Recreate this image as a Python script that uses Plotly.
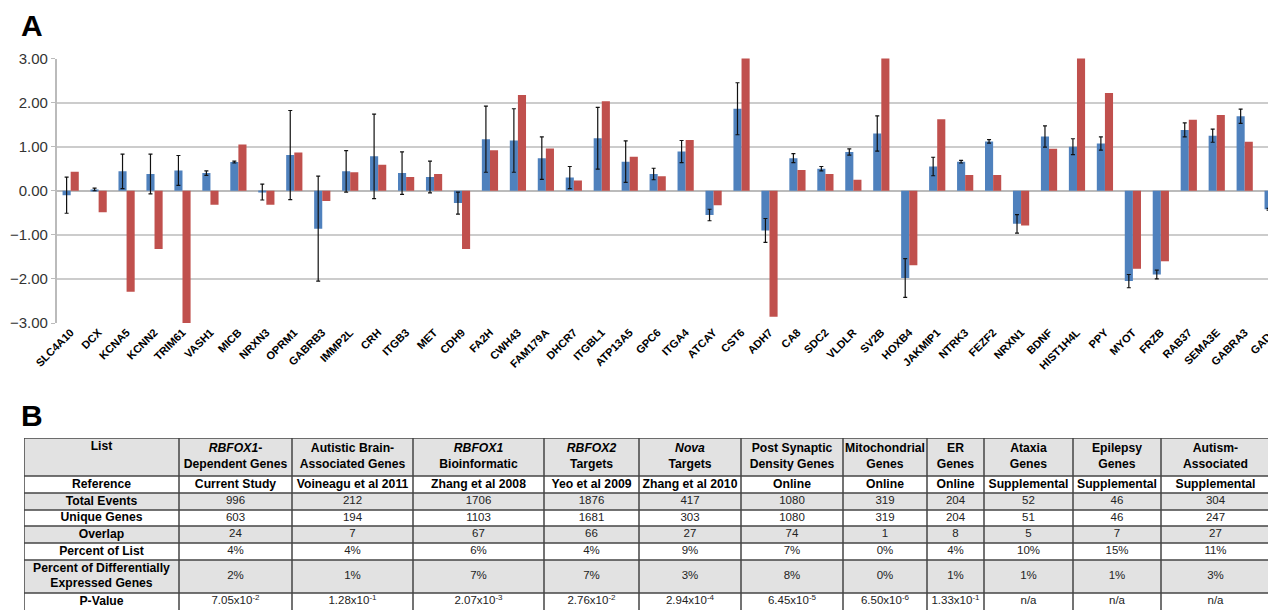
import plotly.graph_objects as go

genes = ["SLC4A10", "DCX", "KCNA5", "KCNN2", "TRIM61", "VASH1", "MICB", "NRXN3", "OPRM1", "GABRB3",
         "IMMP2L", "CRH", "ITGB3", "MET", "CDH9", "FA2H", "CWH43", "FAM179A", "DHCR7", "ITGBL1",
         "ATP13A5", "GPC6", "ITGA4", "ATCAY", "CST6", "ADH7", "CA8", "SDC2", "VLDLR", "SV2B",
         "HOXB4", "JAKMIP1", "NTRK3", "FEZF2", "NRXN1", "BDNF", "HIST1H4L", "PPY", "MYOT", "FRZB",
         "RAB37", "SEMA3E", "GABRA3", "GAD2"]

blue_vals = [-0.10, 0.03, 0.44, 0.38, 0.46, 0.40, 0.65, -0.03, 0.81, -0.86,
             0.44, 0.78, 0.40, 0.31, -0.28, 1.17, 1.14, 0.74, 0.30, 1.19,
             0.66, 0.38, 0.89, -0.55, 1.86, -0.90, 0.74, 0.50, 0.88, 1.30,
             -1.98, 0.55, 0.66, 1.12, -0.75, 1.23, 1.00, 1.07, -2.05, -1.90,
             1.38, 1.25, 1.69, -0.42]

blue_err = [0.41, 0.03, 0.39, 0.45, 0.34, 0.05, 0.02, 0.18, 1.01, 1.19,
            0.47, 0.96, 0.48, 0.36, 0.25, 0.75, 0.72, 0.48, 0.25, 0.70,
            0.47, 0.13, 0.25, 0.13, 0.59, 0.27, 0.10, 0.05, 0.07, 0.40,
            0.44, 0.21, 0.03, 0.04, 0.21, 0.24, 0.18, 0.15, 0.15, 0.10,
            0.16, 0.15, 0.16, 0.02]

red_vals = [0.43, -0.49, -2.29, -1.32, -3.30, -0.32, 1.05, -0.32, 0.87, -0.23,
            0.42, 0.59, 0.31, 0.38, -1.32, 0.92, 2.17, 0.96, 0.23, 2.03,
            0.77, 0.33, 1.15, -0.33, 3.30, -2.86, 0.47, 0.38, 0.25, 3.30,
            -1.69, 1.62, 0.36, 0.36, -0.79, 0.95, 3.30, 2.22, -1.77, -1.60,
            1.61, 1.72, 1.11, -0.48]

y_ticks = [3, 2, 1, 0, -1, -2, -3]

# Table data
col_headers = ["List",
               "<i>RBFOX1</i>-<br>Dependent Genes",
               "Autistic Brain-<br>Associated Genes",
               "<i>RBFOX1</i><br>Bioinformatic",
               "<i>RBFOX2</i><br>Targets",
               "<i>Nova</i><br>Targets",
               "Post Synaptic<br>Density Genes",
               "Mitochondrial<br>Genes",
               "ER<br>Genes",
               "Ataxia<br>Genes",
               "Epilepsy<br>Genes",
               "Autism-<br>Associated"]
row_labels = ["Reference", "Total Events", "Unique Genes", "Overlap", "Percent of List",
              "Percent of Differentially<br>Expressed Genes", "P-Value"]
reference = ["Current Study", "Voineagu et al 2011", "Zhang et al 2008", "Yeo et al 2009",
             "Zhang et al 2010", "Online", "Online", "Online", "Supplemental", "Supplemental", "Supplemental"]
total_events = ["996", "212", "1706", "1876", "417", "1080", "319", "204", "52", "46", "304"]
unique_genes = ["603", "194", "1103", "1681", "303", "1080", "319", "204", "51", "46", "247"]
overlap = ["24", "7", "67", "66", "27", "74", "1", "8", "5", "7", "27"]
pct_list = ["4%", "4%", "6%", "4%", "9%", "7%", "0%", "4%", "10%", "15%", "11%"]
pct_de = ["2%", "1%", "7%", "7%", "3%", "8%", "0%", "1%", "1%", "1%", "3%"]
p_value = ["7.05x10<sup>-2</sup>", "1.28x10<sup>-1</sup>", "2.07x10<sup>-3</sup>", "2.76x10<sup>-2</sup>",
           "2.94x10<sup>-4</sup>", "6.45x10<sup>-5</sup>", "6.50x10<sup>-6</sup>", "1.33x10<sup>-1</sup>",
           "n/a", "n/a", "n/a"]

# Layout geometry (pixels) for the table grid
col_widths = [155, 113, 121, 131, 95, 102, 102, 84, 57, 89, 88, 109]
row_heights = [38, 17, 17, 16, 17, 17, 33, 17]
row_shade = [1, 0, 1, 0, 1, 0, 1, 0]

W, H = 1276, 611
OFF = 8  # page body margin offset
FONT = "Liberation Sans, Arial, Helvetica, sans-serif"
BLUE = "#4F81BD"
RED = "#C0504D"
BOLD_SIZE = 12.2


def px_x(p):
    return (p - OFF) / W


def px_y(p):
    return 1 - (p - OFF) / H


fig = go.Figure()
fig.add_trace(go.Bar(
    x=genes, y=blue_vals, marker_color=BLUE, marker_line_width=0,
    error_y=dict(type="data", array=blue_err, visible=True, color="#111111", thickness=1.2, width=2),
    showlegend=False, hoverinfo="skip"))
fig.add_trace(go.Bar(
    x=genes, y=red_vals, marker_color=RED, marker_line_width=0, showlegend=False, hoverinfo="skip"))

# ---- Table built on its own axes (xaxis2 / yaxis2) ----
xb = [0]
for w in col_widths:
    xb.append(xb[-1] + w)
yb = [0]
for h in row_heights:
    yb.append(yb[-1] + h)
tw, th = xb[-1], yb[-1]

fig.add_trace(go.Heatmap(
    x=xb, y=yb, z=[[s] * len(col_widths) for s in row_shade],
    colorscale=[[0, "white"], [1, "#e2e2e2"]], zmin=0, zmax=1, showscale=False,
    hoverinfo="skip", xaxis="x2", yaxis="y2"))

gx, gy = [], []
for x in xb:
    gx += [x, x, None]
    gy += [0, th + 5, None]
for y in yb[:-1]:
    gx += [0, tw, None]
    gy += [y, y, None]
fig.add_trace(go.Scatter(x=gx, y=gy, mode="lines", line=dict(color="#444444", width=1.5),
                         hoverinfo="skip", showlegend=False, xaxis="x2", yaxis="y2", cliponaxis=False))

xc = [(xb[i] + xb[i + 1]) / 2 for i in range(len(col_widths))]
yc = [(yb[i] + yb[i + 1]) / 2 for i in range(len(row_heights))]

# header texts (bold)
hx, hy, ht, hp = [], [], [], []
for j, t in enumerate(col_headers):
    hx.append(xc[j])
    if j == 0:
        hy.append(yb[0] + 3)
        hp.append("bottom center")
    else:
        hy.append(yc[0])
        hp.append("middle center")
    ht.append("<b>%s</b>" % t)
fig.add_trace(go.Scatter(x=hx, y=hy, text=ht, mode="text", textposition=hp,
                         textfont=dict(family=FONT, size=BOLD_SIZE, color="black"),
                         hoverinfo="skip", showlegend=False, xaxis="x2", yaxis="y2", cliponaxis=False))

# row labels + reference row (bold)
bx, by, bt = [], [], []
for i, lab in enumerate(row_labels):
    bx.append(xc[0])
    by.append(yc[i + 1])
    bt.append("<b>%s</b>" % lab)
for j, v in enumerate(reference):
    bx.append(xc[j + 1])
    by.append(yc[1])
    bt.append("<b>%s</b>" % v)
fig.add_trace(go.Scatter(x=bx, y=by, text=bt, mode="text", textposition="middle center",
                         textfont=dict(family=FONT, size=BOLD_SIZE, color="black"),
                         hoverinfo="skip", showlegend=False, xaxis="x2", yaxis="y2", cliponaxis=False))

# data cells (regular)
data_rows = [total_events, unique_genes, overlap, pct_list, pct_de, p_value]
dx, dy, dt = [], [], []
for i, row in enumerate(data_rows):
    for j, v in enumerate(row):
        dx.append(xc[j + 1])
        dy.append(yc[i + 2])
        dt.append(v)
fig.add_trace(go.Scatter(x=dx, y=dy, text=dt, mode="text", textposition="middle center",
                         textfont=dict(family=FONT, size=11.5, color="#222222"),
                         hoverinfo="skip", showlegend=False, xaxis="x2", yaxis="y2", cliponaxis=False))

fig.update_layout(
    width=W, height=H,
    margin=dict(l=0, r=0, t=0, b=0),
    paper_bgcolor="white", plot_bgcolor="white",
    barmode="group", bargap=0.42, bargroupgap=0,
    font=dict(family=FONT),
    xaxis=dict(domain=[px_x(56.7), px_x(1276)], range=[-0.5, 43.12], tickangle=-45,
               tickfont=dict(family=FONT, size=11, color="black", weight="bold"),
               showgrid=False, showline=False, ticks="", automargin=False, fixedrange=True),
    xaxis3=dict(overlaying="x", anchor="free", position=px_y(191), range=[-0.5, 43.12],
                tickmode="array", tickvals=[i - 0.5 for i in range(len(genes) + 1)],
                ticks="outside", ticklen=4, tickcolor="#bbbbbb", tickwidth=1,
                showticklabels=False, showgrid=False, zeroline=False, showline=False, fixedrange=True),
    yaxis=dict(domain=[px_y(323), px_y(58.5)], range=[-3, 3], tickvals=y_ticks,
               tickformat=".2f", tickfont=dict(family=FONT, size=15, color="#333333"),
               showgrid=True, gridcolor="#cccccc", gridwidth=1.5,
               zeroline=True, zerolinecolor="#bbbbbb", zerolinewidth=1.5,
               showline=True, linecolor="#bbbbbb", linewidth=1.5,
               ticks="outside", ticklen=4, tickcolor="#bbbbbb", automargin=False, fixedrange=True),
    xaxis2=dict(domain=[px_x(24), px_x(24 + tw)], range=[0, tw], anchor="y2",
                showgrid=False, zeroline=False, showticklabels=False, showline=False, fixedrange=True),
    yaxis2=dict(domain=[px_y(438 + th), px_y(438)], range=[th, 0], anchor="x2",
                showgrid=False, zeroline=False, showticklabels=False, showline=False, fixedrange=True),
    annotations=[
        dict(text="<b>A</b>", x=px_x(19), y=px_y(7), xref="paper", yref="paper",
             xanchor="left", yanchor="top", showarrow=False, font=dict(family=FONT, size=30, color="black")),
        dict(text="<b>B</b>", x=px_x(19), y=px_y(397), xref="paper", yref="paper",
             xanchor="left", yanchor="top", showarrow=False, font=dict(family=FONT, size=30, color="black")),
    ],
)

fig.write_html("out.html")
